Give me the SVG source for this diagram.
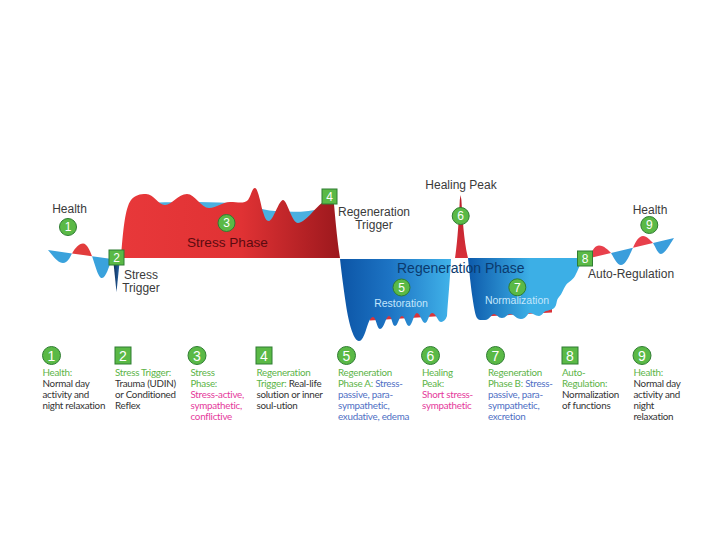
<svg xmlns="http://www.w3.org/2000/svg" width="720" height="540" viewBox="0 0 720 540">
<defs>
<linearGradient id="gRed" gradientUnits="userSpaceOnUse" x1="121" y1="0" x2="340" y2="0">
<stop offset="0" stop-color="#e8383a"/><stop offset="0.55" stop-color="#e03234"/><stop offset="1" stop-color="#9c181d"/>
</linearGradient>
<linearGradient id="gBlueA" gradientUnits="userSpaceOnUse" x1="340" y1="0" x2="452" y2="0">
<stop offset="0" stop-color="#0c55a6"/><stop offset="0.45" stop-color="#1d74c4"/><stop offset="1" stop-color="#41b4ea"/>
</linearGradient>
<linearGradient id="gBlueB" gradientUnits="userSpaceOnUse" x1="468" y1="0" x2="530" y2="0">
<stop offset="0" stop-color="#0d5aab"/><stop offset="1" stop-color="#3cafe6"/>
</linearGradient>
<linearGradient id="gPeak" gradientUnits="userSpaceOnUse" x1="0" y1="196" x2="0" y2="258">
<stop offset="0" stop-color="#b81e28"/><stop offset="1" stop-color="#d8303a"/>
</linearGradient>
<linearGradient id="gSpike" gradientUnits="userSpaceOnUse" x1="113" y1="0" x2="120" y2="0">
<stop offset="0" stop-color="#0a2850"/><stop offset="1" stop-color="#2c6cb0"/>
</linearGradient>
</defs>
<style>
.lbl{font-family:"Liberation Sans",Arial,sans-serif;font-size:12px;fill:#3a3a3a}
.num{font-family:"Liberation Sans",Arial,sans-serif;font-size:12px;fill:#ffffff;text-anchor:middle}
.lnum{font-family:"Liberation Sans",Arial,sans-serif;font-size:14px;fill:#ffffff;text-anchor:middle}
.mk{fill:#5ab946;stroke:#2f7d32;stroke-width:1}
.lg{font-family:Lato,"Liberation Sans",sans-serif;font-size:9.8px;letter-spacing:-0.25px;fill:#333333}
.gr{fill:#5cb447}
.pk{fill:#e5399b}
.bl{fill:#4f6fc4}
.inner{font-family:"Liberation Sans",Arial,sans-serif;font-size:10.5px;fill:#c4e6fb;text-anchor:middle}
</style>
<rect width="720" height="540" fill="#ffffff"/>

<g id="curve">
<path d="M48,250 C53,256 58,263 63,263 C68,263 70,257 72,253.4 Z" fill="#3aa2dc"/>
<path d="M72,253.4 C75,248 79,243.5 83,243.5 C87,243.5 90,251 92,256.2 Z" fill="#e23c3c"/>
<path d="M92,256.2 C95,264 98,278 102,278 C106,278 109,266 112,259 Z" fill="#3aa2dc"/>
<path d="M113,258 L120,258 L116.5,292 Z" fill="url(#gSpike)"/>
<path d="M130,258 L134,205 C160,201 200,202 230,203 C250,204 260,210 275,211 C290,212 305,213 325,208 L335,258 Z" fill="#4ab0e0"/>
<path d="M121,258 C123,232 125,208 131,200 C135,195 140,194 146,194 C154,194 158,205 165,205 C172,205 178,194 187,194 C195,194 201,208 209,208 C217,208 222,202 230,202 C238,202 244,204 248,200 C251,196 252,188 255,188 C258,188 261,205 263,212 C265,218 266,221 269,221 C273,221 279,200 283,200 C287,200 292,223 298,223 C305,223 315,208 322,203 C326,200 330,194 333,193 C335,215 337,240 340,258 Z" fill="url(#gRed)"/>
<path d="M370,300 L442,300 L442,316 L370,320.5 Z" fill="#d8343a"/>
<path d="M340,259 L451,259 C450,280 448,300 447,316 C445,322 441,323 439,321 C437,318 435,313 432,313 C429,313 428,323 425,323 C422,323 420,313 417,313 C414,313 412,326 409,326 C406,326 405,316 402,316 C399,316 398,326 395,326 C392,326 392,316 389,316 C386,316 384,329 380,329 C377,329 376,317 373,317 C370,317 368,324 366,330 C364,336 362,341 359,341 C354,341 349,325 346,305 C343,285 341,268 340,259 Z" fill="url(#gBlueA)"/>
<path d="M455,258 C457.5,242 459,218 459.8,200 L460.6,195 L461.4,200 C462.5,218 464,242 468,258 Z" fill="url(#gPeak)"/>
<path d="M484,300 L552,300 L552,312.5 L484,316.5 Z" fill="#d8343a"/>
<path d="M468,258 L581,258 C581,264 578,270 575,276 C572,281 568,282 566,285 C563,289 562,294 559,297 C556,300 557,305 555,307 C553,310 549,310 546,311 C543,312 542,316 539,316 C535,316 533,313 530,313 C527,313 527,319 521,319 C516,319 514,314 510,314 C507,314 506,318 502,318 C498,318 497,314 494,314 C491,314 490,320 485,320 C481,320 478,321 476,316 C473,305 470,280 468,258 Z" fill="url(#gBlueB)"/>
<path d="M590,258 C592,250 595,245.5 599,245.5 C604,245.5 608,250 611,253 Z" fill="#e8404c"/>
<path d="M611,253 C614,258 617,265 621,265 C626,265 630,254 633,247.8 Z" fill="#3a9edc"/>
<path d="M633,247.8 C636,241 639,236 643,236 C647,236 650,240 653,243 Z" fill="#e8404c"/>
<path d="M653,243 C656,248 658,254 661,254 C665,254 670,244 674,238 Z" fill="#3a9edc"/>
</g>

<g id="phase-labels">
<text x="187" y="247" font-family="Liberation Sans,Arial,sans-serif" font-size="13.6" fill="#5c0b10">Stress Phase</text>
<text x="397" y="273" font-family="Liberation Sans,Arial,sans-serif" font-size="14" fill="#0b3a6e">Regeneration Phase</text>
<text class="inner" x="401" y="307">Restoration</text>
<text class="inner" x="517" y="304">Normalization</text>
</g>

<g id="node-1">
<text class="lbl" x="69.5" y="213" text-anchor="middle">Health</text>
<circle class="mk" cx="68" cy="227" r="8.5"/><text class="num" x="68" y="231.3">1</text>
</g>
<g id="node-2">
<rect class="mk" x="109" y="250" width="15" height="15"/><text class="num" x="116.5" y="261.8">2</text>
<text class="lbl" x="141" y="279" text-anchor="middle" font-size="11.5">Stress</text>
<text class="lbl" x="141" y="292" text-anchor="middle" font-size="11.5">Trigger</text>
</g>
<g id="node-3">
<circle class="mk" cx="226.5" cy="223" r="8.5"/><text class="num" x="226.5" y="227.3">3</text>
</g>
<g id="node-4">
<rect class="mk" x="322" y="189" width="15" height="15"/><text class="num" x="329.5" y="200.8">4</text>
<text class="lbl" x="374" y="216" text-anchor="middle" font-size="11.8">Regeneration</text>
<text class="lbl" x="374" y="229" text-anchor="middle" font-size="11.8">Trigger</text>
</g>
<g id="node-5">
<circle class="mk" cx="401.5" cy="287.5" r="8.5"/><text class="num" x="401.5" y="291.8">5</text>
</g>
<g id="node-6">
<text class="lbl" x="461" y="189" text-anchor="middle">Healing Peak</text>
<circle class="mk" cx="460.7" cy="216" r="8.5"/><text class="num" x="460.7" y="220.3">6</text>
</g>
<g id="node-7">
<circle class="mk" cx="517.3" cy="287.3" r="8.5"/><text class="num" x="517.3" y="291.6">7</text>
</g>
<g id="node-8">
<rect class="mk" x="577.5" y="251" width="15" height="15"/><text class="num" x="585" y="262.8">8</text>
<text class="lbl" x="588" y="278">Auto-Regulation</text>
</g>
<g id="node-9">
<text class="lbl" x="650" y="214" text-anchor="middle">Health</text>
<circle class="mk" cx="649.3" cy="225" r="8.5"/><text class="num" x="649.3" y="229.3">9</text>
</g>

<g id="legend">
<g id="legend-1">
<circle class="mk" cx="51.5" cy="355.5" r="9"/><text class="lnum" x="51.5" y="360.5">1</text>
<text class="lg" x="42.5" y="376"><tspan class="gr">Health:</tspan><tspan x="42.5" dy="11">Normal day</tspan><tspan x="42.5" dy="11">activity and</tspan><tspan x="42.5" dy="11">night relaxation</tspan></text>
</g>
<g id="legend-2">
<rect class="mk" x="115" y="347" width="16" height="17"/><text class="lnum" x="123" y="360.5">2</text>
<text class="lg" x="115" y="376"><tspan class="gr">Stress Trigger:</tspan><tspan x="115" dy="11">Trauma (UDIN)</tspan><tspan x="115" dy="11">or Conditioned</tspan><tspan x="115" dy="11">Reflex</tspan></text>
</g>
<g id="legend-3">
<circle class="mk" cx="197" cy="355.5" r="9"/><text class="lnum" x="197" y="360.5">3</text>
<text class="lg" x="190.5" y="376"><tspan class="gr">Stress</tspan><tspan class="gr" x="190.5" dy="11">Phase:</tspan><tspan class="pk" x="190.5" dy="11">Stress-active,</tspan><tspan class="pk" x="190.5" dy="11">sympathetic,</tspan><tspan class="pk" x="190.5" dy="11">conflictive</tspan></text>
</g>
<g id="legend-4">
<rect class="mk" x="256" y="347" width="16" height="17"/><text class="lnum" x="264" y="360.5">4</text>
<text class="lg" x="256.5" y="376"><tspan class="gr">Regeneration</tspan><tspan class="gr" x="256.5" dy="11">Trigger:</tspan><tspan> Real-life</tspan><tspan x="256.5" dy="11">solution or inner</tspan><tspan x="256.5" dy="11">soul-ution</tspan></text>
</g>
<g id="legend-5">
<circle class="mk" cx="346.5" cy="355.5" r="9"/><text class="lnum" x="346.5" y="360.5">5</text>
<text class="lg" x="338" y="376"><tspan class="gr">Regeneration</tspan><tspan class="gr" x="338" dy="11">Phase A:</tspan><tspan class="bl"> Stress-</tspan><tspan class="bl" x="338" dy="11">passive, para-</tspan><tspan class="bl" x="338" dy="11">sympathetic,</tspan><tspan class="bl" x="338" dy="11">exudative, edema</tspan></text>
</g>
<g id="legend-6">
<circle class="mk" cx="430.5" cy="355.5" r="9"/><text class="lnum" x="430.5" y="360.5">6</text>
<text class="lg" x="422" y="376"><tspan class="gr">Healing</tspan><tspan class="gr" x="422" dy="11">Peak:</tspan><tspan class="pk" x="422" dy="11">Short stress-</tspan><tspan class="pk" x="422" dy="11">sympathetic</tspan></text>
</g>
<g id="legend-7">
<circle class="mk" cx="495.5" cy="355.5" r="9"/><text class="lnum" x="495.5" y="360.5">7</text>
<text class="lg" x="488" y="376"><tspan class="gr">Regeneration</tspan><tspan class="gr" x="488" dy="11">Phase B:</tspan><tspan class="bl"> Stress-</tspan><tspan class="bl" x="488" dy="11">passive, para-</tspan><tspan class="bl" x="488" dy="11">sympathetic,</tspan><tspan class="bl" x="488" dy="11">excretion</tspan></text>
</g>
<g id="legend-8">
<rect class="mk" x="562" y="347" width="16" height="17"/><text class="lnum" x="570" y="360.5">8</text>
<text class="lg" x="562" y="376"><tspan class="gr">Auto-</tspan><tspan class="gr" x="562" dy="11">Regulation:</tspan><tspan x="562" dy="11">Normalization</tspan><tspan x="562" dy="11">of functions</tspan></text>
</g>
<g id="legend-9">
<circle class="mk" cx="642" cy="355.5" r="9"/><text class="lnum" x="642" y="360.5">9</text>
<text class="lg" x="633.5" y="376"><tspan class="gr">Health:</tspan><tspan x="633.5" dy="11">Normal day</tspan><tspan x="633.5" dy="11">activity and</tspan><tspan x="633.5" dy="11">night</tspan><tspan x="633.5" dy="11">relaxation</tspan></text>
</g>
</g>
</svg>
